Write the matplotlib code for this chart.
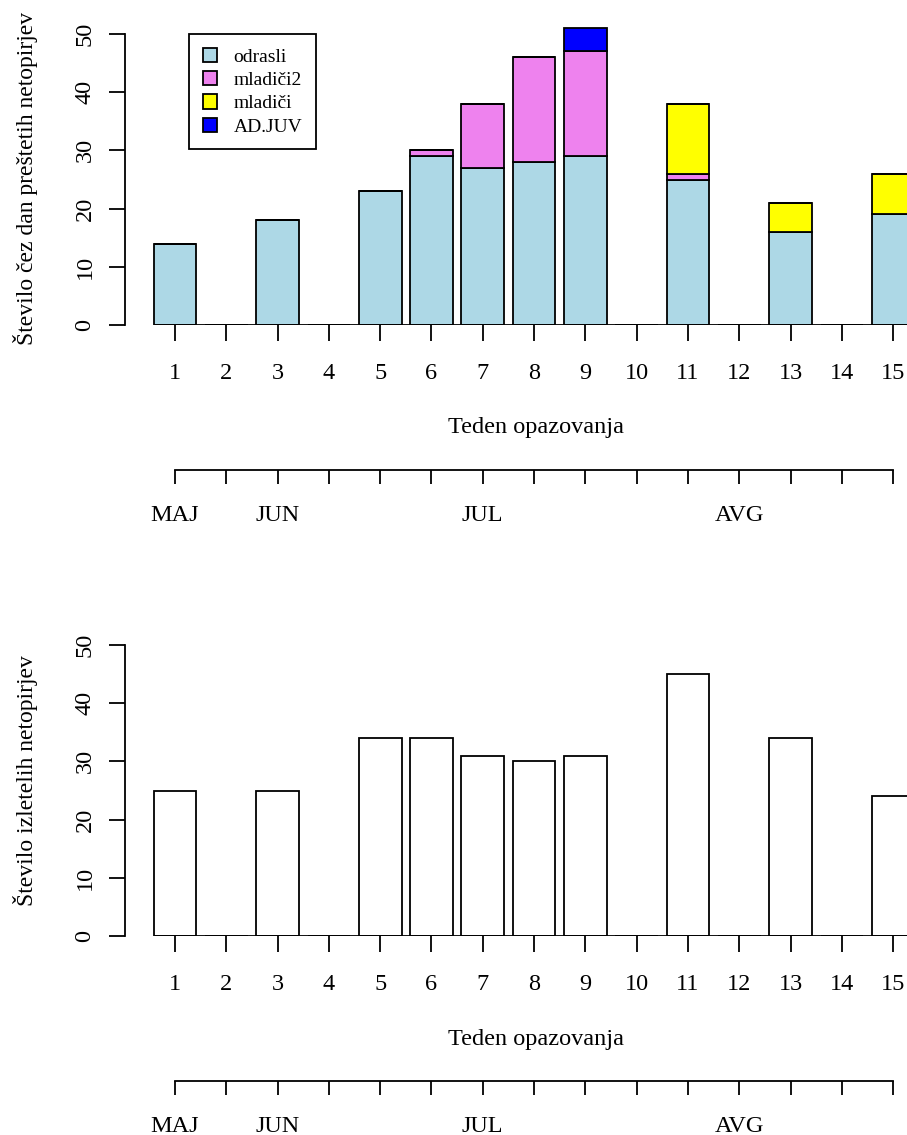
import matplotlib
matplotlib.use('Agg')
import matplotlib.pyplot as plt
import numpy as np

# ---------------- data ----------------
weeks = list(range(1, 16))
week_labels = [str(w) for w in weeks]
odrasli = [14, 0, 18, 0, 23, 29, 27, 28, 29, 0, 25, 0, 16, 0, 19]
mladici2 = [0, 0, 0, 0, 0, 1, 11, 18, 18, 0, 1, 0, 0, 0, 0]
mladici = [0, 0, 0, 0, 0, 0, 0, 0, 0, 0, 12, 0, 5, 0, 7]
adjuv = [0, 0, 0, 0, 0, 0, 0, 0, 4, 0, 0, 0, 0, 0, 0]
izleteli = [25, 0, 25, 0, 34, 34, 31, 30, 31, 0, 45, 0, 34, 0, 24]
series_names = ['odrasli', 'mladiči2', 'mladiči', 'AD.JUV']
series_colors = ['lightblue', 'violet', 'yellow', 'blue']
month_labels = ['MAJ', '', 'JUN', '', '', '', 'JUL', '', '', '', '', 'AVG', '', '', '']
y_ticks = [0, 10, 20, 30, 40, 50]
xlabel_text = 'Teden opazovanja'
ylabel_top = 'Število čez dan preštetih netopirjev'
ylabel_bottom = 'Število izletelih netopirjev'

# ---------------- style / geometry ----------------
plt.rcParams['font.family'] = ['Liberation Serif', 'DejaVu Serif']
FS = 17.5
FS_YLAB = 17
LW = 1.3
W, H = 907, 1135
fig = plt.figure(figsize=(W / 100, H / 100), dpi=100)

PXW = 51.3      # pixels per week
X1 = 175.0      # pixel of week 1
XMIN, XMAX = 0.03, 16.01
PXY = 5.82      # pixels per count unit
YMAX = 55
BAR_W = 1 / 1.2
AX_LEFT = X1 + (XMIN - 1) * PXW
AX_WIDTH = (XMAX - XMIN) * PXW
AX_HEIGHT = YMAX * PXY


def make_ax(y0px, ylabel, ylab_center_px):
    ax = fig.add_axes([AX_LEFT / W, (H - y0px) / H, AX_WIDTH / W, AX_HEIGHT / H])
    ax.set_xlim(XMIN, XMAX)
    ax.set_ylim(0, YMAX)
    for s in ['top', 'right', 'bottom']:
        ax.spines[s].set_visible(False)
    ax.spines['left'].set_bounds(0, 50)
    ax.spines['left'].set_linewidth(LW)
    ax.set_yticks(y_ticks)
    ax.tick_params(axis='y', length=11.5, width=LW, labelsize=FS,
                   labelrotation=90, pad=10)
    for lab in ax.get_yticklabels():
        lab.set_va('center')
    ax.set_xticks(weeks, labels=week_labels)
    ax.tick_params(axis='x', length=11.5, width=LW, labelsize=FS, pad=16)
    ax.patch.set_alpha(0)
    # baseline
    ax.hlines(0, weeks[0] - BAR_W / 2, weeks[-1] + BAR_W / 2, color='black', lw=LW, zorder=3)
    # xlabel
    ax.set_xlabel(xlabel_text, fontsize=FS)
    ax.xaxis.set_label_coords((8.03 - XMIN) / (XMAX - XMIN), -103 / AX_HEIGHT)
    ax.xaxis.label.set_va('center')
    # ylabel
    ax.set_ylabel(ylabel, fontsize=FS_YLAB)
    ax.yaxis.set_label_coords((25 - AX_LEFT) / AX_WIDTH, (y0px - ylab_center_px) / AX_HEIGHT)
    ax.yaxis.label.set_va('center')
    # month axis
    sec = ax.secondary_xaxis(-145 / AX_HEIGHT)
    sec.set_xticks(weeks, labels=month_labels)
    sec.xaxis.set_ticks_position('bottom')
    sec.tick_params(axis='x', direction='out', length=10, width=LW, labelsize=FS, pad=15)
    for s in ['top', 'left', 'right']:
        sec.spines[s].set_visible(False)
    sec.spines['bottom'].set_bounds(weeks[0], weeks[-1])
    sec.spines['bottom'].set_linewidth(LW)
    return ax


# ---------------- top chart ----------------
ax1 = make_ax(325, ylabel_top, 178)
bottom = np.zeros(len(weeks))
handles = []
for vals, name, col in zip([odrasli, mladici2, mladici, adjuv], series_names, series_colors):
    b = ax1.bar(weeks, vals, width=BAR_W, bottom=bottom, color=col,
                edgecolor='black', linewidth=LW, label=name, zorder=2)
    handles.append(b)
    bottom = bottom + np.array(vals)
leg = ax1.legend(handles=handles, labels=series_names, loc='upper left',
                 bbox_to_anchor=(189 / W, 1 - 34 / H), bbox_transform=fig.transFigure,
                 borderaxespad=0, fancybox=False, framealpha=1, edgecolor='black',
                 fontsize=14, handlelength=0.75, handleheight=0.75, handletextpad=0.85,
                 borderpad=0.7, labelspacing=0.28)
leg.get_frame().set_linewidth(LW)

# ---------------- bottom chart ----------------
ax2 = make_ax(936, ylabel_bottom, 781)
ax2.bar(weeks, izleteli, width=BAR_W, color='white', edgecolor='black',
        linewidth=LW, zorder=2)

fig.savefig('out.png', dpi=100)
